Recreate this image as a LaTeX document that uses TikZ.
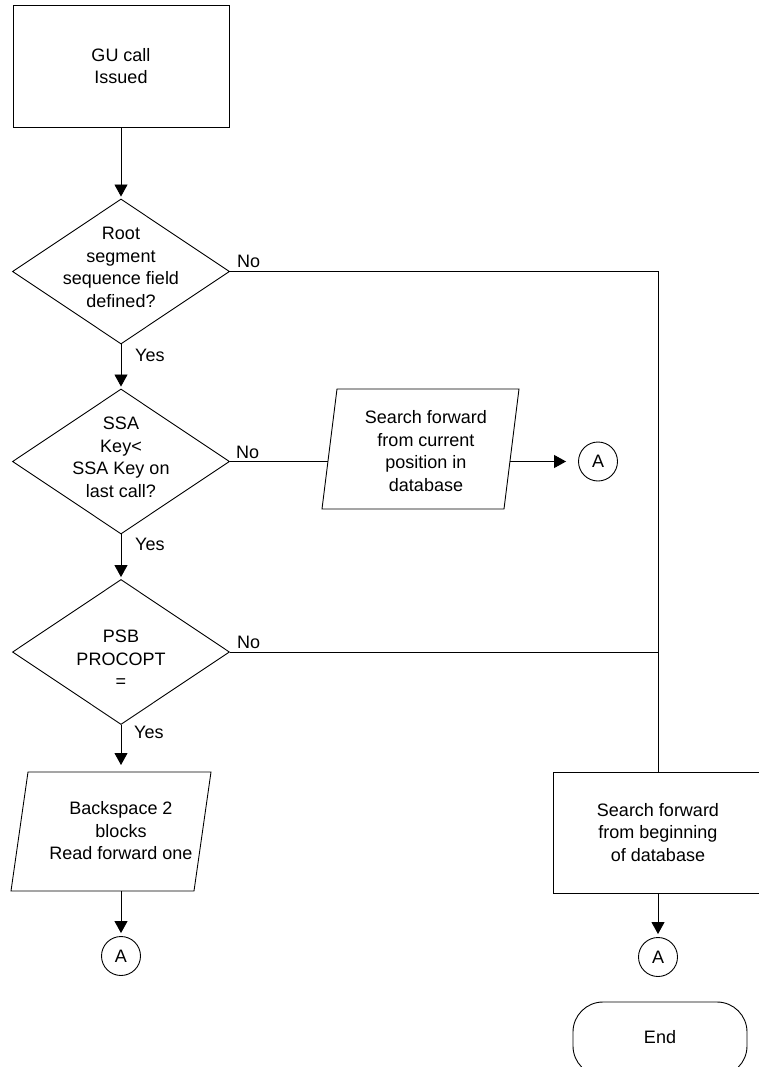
\documentclass[tikz,border=0pt]{standalone}
\usepackage{fontspec}
\setmainfont{Liberation Sans}
\usetikzlibrary{shapes.geometric,arrows.meta}

\begin{document}
\begin{tikzpicture}[x=1pt,y=-1pt,
  every node/.style={font=\fontsize{18}{22.5}\selectfont, text=black},
  line/.style={line width=0.9pt, draw=black},
  flow/.style={line, -{Triangle[length=12pt,width=13pt]}, shorten >=2pt},
  box/.style={draw, line width=0.9pt, rectangle, inner sep=0pt, align=center},
  decision/.style={draw, line width=0.9pt, diamond, inner sep=0pt,
                   minimum width=217pt, minimum height=145pt},
  conn/.style={draw, line width=0.9pt, circle, minimum size=39pt, inner sep=0pt},
  txt/.style={align=center, inner sep=0pt},
  lbl/.style={inner sep=0pt, anchor=base west}]
\useasboundingbox (0,0) rectangle (758,1067);

% start
\node[box, minimum width=216pt, minimum height=122pt] (start) at (121,66) {GU call\\Issued};

% decisions
\node[decision] (d1) at (121,271.5) {};
\node[txt] (t1) at ([yshift=4pt]d1.center) {Root\\segment\\sequence field\\defined?};
\node[decision] (d2) at (121,461.5) {};
\node[txt] (t2) at ([yshift=4pt]d2.center) {SSA\\Key<\\SSA Key on\\last call?};
\node[decision] (d3) at (121,652) {};
\node[txt] (t3) at ([yshift=-7pt]d3.center) {PSB\\PROCOPT\\=};

% forward search from current position (parallelogram)
\draw[line] (337,389) -- (519,389) -- (504,509) -- (322,509) -- cycle;
\node[txt] (p1) at (426,451) {Search forward\\from current\\position in\\database};
\coordinate (p1w) at (328,461.5);
\coordinate (p1e) at (510,461.5);
\node[conn] (a1) at (598,461.5) {A};

% backspace (parallelogram)
\draw[line] (28,772) -- (211,772) -- (194,891) -- (11,891) -- cycle;
\node[txt] (p2) at (121,831) {Backspace 2\\blocks\\Read forward one};
\coordinate (p2n) at (121,772);
\coordinate (p2s) at (121,891);
\node[conn] (a2) at (121,956) {A};

% forward search from beginning
\node[box, minimum width=210pt, minimum height=121pt] (r) at (658,832.5)
  {Search forward\\from beginning\\of database};
\node[conn] (a3) at (658,957) {A};

% terminal
\node[draw, line width=0.9pt, rectangle, rounded corners=30pt, minimum width=174pt,
      minimum height=74pt, inner sep=0pt] (end) at (660,1039) {};
\node[txt] (endtxt) at (660,1037) {End};

% connectors
\draw[flow] (start) -- (d1);
\draw[flow] (d1) -- (d2);
\draw[flow] (d2) -- (d3);
\draw[flow, shorten >=7pt] (d3) -- (p2n);
\draw[flow, shorten >=3pt] (p2s) -- (a2);
\draw[line] (d1.east) -| (r.north);
\draw[line] (d2.east) -- (p1w);
\draw[flow, shorten >=12pt] (p1e) -- (a1);
\draw[line] (d3.east) -- (d3.east -| r.north);
\draw[flow, shorten >=3pt] (r) -- (a3);

% branch labels
\node[lbl] at ([xshift=7pt,yshift=4pt]d1.east) {No};
\node[lbl] at ([xshift=6pt,yshift=3pt]d2.east) {No};
\node[lbl] at ([xshift=7pt,yshift=4pt]d3.east) {No};
\node[lbl] at ([xshift=14pt,yshift=-17pt]d1.south) {Yes};
\node[lbl] at ([xshift=14pt,yshift=-16.5pt]d2.south) {Yes};
\node[lbl] at ([xshift=13pt,yshift=-14pt]d3.south) {Yes};
\end{tikzpicture}
\end{document}
